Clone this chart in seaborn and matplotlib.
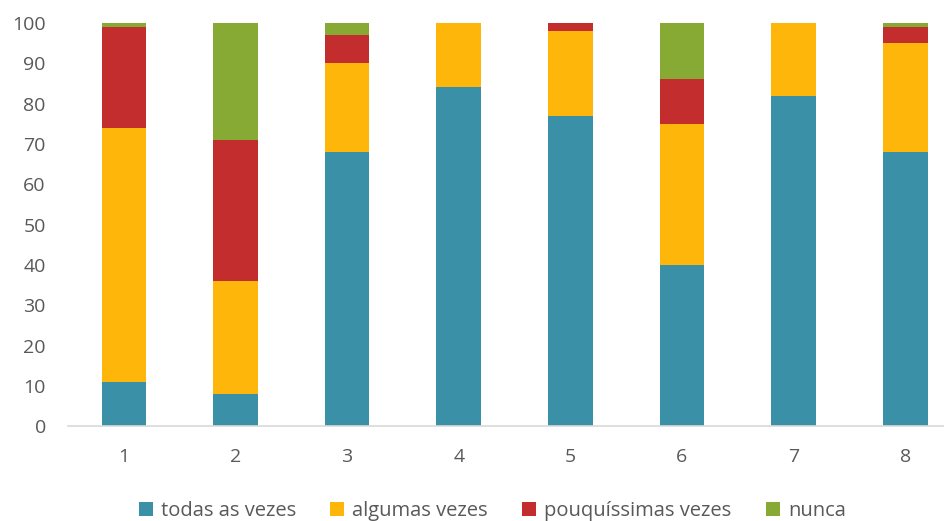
import matplotlib
matplotlib.use("Agg")
import matplotlib.pyplot as plt
import seaborn as sns
import numpy as np
import pandas as pd
from matplotlib.patches import Patch

categories = ["1", "2", "3", "4", "5", "6", "7", "8"]
todas = [11, 8, 68, 84, 77, 40, 82, 68]
algumas = [63, 28, 22, 16, 21, 35, 18, 27]
pouquissimas = [25, 35, 7, 0, 2, 11, 0, 4]
nunca = [1, 29, 3, 0, 0, 14, 0, 1]

series_names = ["todas as vezes", "algumas vezes", "pouquíssimas vezes", "nunca"]
colors = ["#3A90A6", "#FFB60B", "#C32D2E", "#87AA35"]

sns.set_theme(style="white")
plt.rcParams["font.family"] = ["Open Sans", "DejaVu Sans"]

fig = plt.figure(figsize=(9.45, 5.21), dpi=100)
ax = fig.add_axes([0.072, 0.182, 0.945, 0.774])

vals = [todas, algumas, pouquissimas, nunca]
cum = np.cumsum(np.array(vals, dtype=float), axis=0)
df = pd.DataFrame({"cat": categories})
for i in range(4):
    df[series_names[i]] = cum[i]

for i in reversed(range(4)):
    sns.barplot(data=df, x="cat", y=series_names[i], color=colors[i],
                width=0.4, ax=ax, saturation=1, edgecolor="none", linewidth=0)

ax.set_ylim(0, 100)
ax.set_yticks(range(0, 101, 10))
ax.set_xlim(-0.5, 7.5)
ax.set_xlabel("")
ax.set_ylabel("")
for s in ["top", "right", "left"]:
    ax.spines[s].set_visible(False)
ax.spines["bottom"].set_color("#D9D9D9")
ax.spines["bottom"].set_linewidth(1.2)
ax.tick_params(axis="both", colors="#595959", labelsize=14, length=0)
ax.tick_params(axis="x", pad=16)
ax.tick_params(axis="y", pad=16)

handles = [Patch(facecolor=c, edgecolor="none") for c in colors]
fig.legend(handles, series_names, loc="lower center", ncol=4, frameon=False,
           bbox_to_anchor=(0.521, -0.035), fontsize=14.5, labelcolor="#595959",
           handlelength=0.7, handleheight=0.7, handletextpad=0.4, columnspacing=1.7)

fig.savefig("out.png", dpi=100)
